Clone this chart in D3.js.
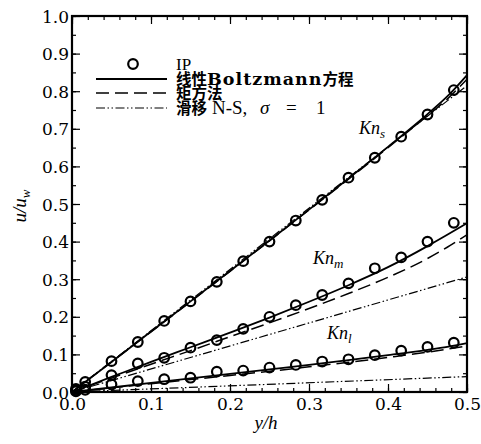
<!DOCTYPE html>
<html>
<head>
<meta charset="utf-8">
<script src="https://cdn.jsdelivr.net/npm/d3@7"></script>
<style>
  html, body { margin: 0; padding: 0; background: #fff; }
  svg { display: block; }
</style>
</head>
<body>
<svg id="chart" width="481" height="444"></svg>
<script>
// Velocity profiles u/u_w versus y/h for three Knudsen numbers
const xTicks = [0.0, 0.1, 0.2, 0.3, 0.4, 0.5];
const yTicks = [0.0, 0.1, 0.2, 0.3, 0.4, 0.5, 0.6, 0.7, 0.8, 0.9, 1.0];

// IP particle results
const ipX = [0.005, 0.0167, 0.05, 0.0833, 0.1167, 0.15, 0.1833, 0.2167, 0.25, 0.2833, 0.3167, 0.35, 0.3833, 0.4167, 0.45, 0.4833];
const ipS = [0.008, 0.027, 0.082, 0.133, 0.189, 0.241, 0.293, 0.348, 0.400, 0.456, 0.511, 0.570, 0.623, 0.679, 0.738, 0.803];
const ipM = [0.004, 0.014, 0.045, 0.076, 0.091, 0.118, 0.138, 0.168, 0.200, 0.231, 0.258, 0.289, 0.329, 0.358, 0.400, 0.450];
const ipL = [0.002, 0.006, 0.020, 0.029, 0.034, 0.038, 0.054, 0.057, 0.065, 0.072, 0.081, 0.087, 0.098, 0.110, 0.120, 0.131];

// Linearised Boltzmann equation and moment method
const curveX = [0, 0.05, 0.1, 0.15, 0.2, 0.25, 0.3, 0.35, 0.4, 0.45, 0.475, 0.5];
const boltzS  = [0, 0.080, 0.161, 0.241, 0.322, 0.403, 0.485, 0.568, 0.652, 0.739, 0.786, 0.843];
const momentS = [0, 0.080, 0.160, 0.240, 0.321, 0.402, 0.484, 0.566, 0.650, 0.735, 0.779, 0.832];
const boltzM  = [0, 0.040, 0.080, 0.119, 0.158, 0.198, 0.240, 0.284, 0.332, 0.388, 0.418, 0.449];
const momentM = [0, 0.037, 0.074, 0.110, 0.147, 0.184, 0.222, 0.262, 0.305, 0.355, 0.385, 0.418];
const boltzL  = [0, 0.012, 0.024, 0.036, 0.048, 0.060, 0.072, 0.085, 0.098, 0.112, 0.120, 0.130];
const momentL = [0, 0.011, 0.022, 0.033, 0.044, 0.055, 0.067, 0.079, 0.092, 0.106, 0.114, 0.122];

// Slip Navier-Stokes, sigma = 1 (linear)
const slipX = [0, 0.5];
const slipS = [0, 0.815];
const slipM = [0, 0.306];
const slipL = [0, 0.041];

const svg = d3.select("#chart");
const mLeft = 72, mRight = 467, mTop = 16, mBottom = 392;

const x = d3.scaleLinear().domain([0, 0.5]).range([mLeft, mRight]);
const y = d3.scaleLinear().domain([0, 1]).range([mBottom, mTop]);

const line = d3.line().x(d => x(d[0])).y(d => y(d[1])).curve(d3.curveMonotoneX);
const zip = (xs, ys) => xs.map((v, i) => [v, ys[i]]);

const dashed = "13,6";
const dashDot = "9,2.5,1.5,2.5,1.5,2.5";
const serif = "Liberation Serif, DejaVu Serif, serif";
const numFont = "DejaVu Serif, serif";
const cjk = "Noto Sans CJK SC, sans-serif";

const plot = svg.append("g");

function drawLine(xs, ys, dash, w) {
  plot.append("path")
    .datum(zip(xs, ys))
    .attr("d", line)
    .attr("fill", "none")
    .attr("stroke", "#000")
    .attr("stroke-width", w)
    .attr("stroke-dasharray", dash);
}

drawLine(slipX, slipS, dashDot, 1.2);
drawLine(slipX, slipM, dashDot, 1.2);
drawLine(slipX, slipL, dashDot, 1.2);
drawLine(curveX, momentS, dashed, 1.5);
drawLine(curveX, momentM, dashed, 1.5);
drawLine(curveX, momentL, dashed, 1.5);
drawLine(curveX, boltzS, null, 1.8);
drawLine(curveX, boltzM, null, 1.8);
drawLine(curveX, boltzL, null, 1.8);

[ipS, ipM, ipL].forEach(series => {
  plot.selectAll(null)
    .data(zip(ipX, series))
    .enter().append("circle")
    .attr("cx", d => x(d[0]))
    .attr("cy", d => y(d[1]))
    .attr("r", 4.8)
    .attr("fill", "none")
    .attr("stroke", "#000")
    .attr("stroke-width", 2.2);
});

// Axes with inward ticks on all four sides
const xMinor = d3.range(0, 0.5001, 0.02);
const yMinor = d3.range(0, 1.0001, 0.05);

function axisGroup(axis, tx, ty) {
  const g = svg.append("g").attr("transform", `translate(${tx},${ty})`).call(axis);
  g.select(".domain").remove();
  g.selectAll("line").attr("stroke", "#000").attr("stroke-width", 1.2);
  return g;
}

axisGroup(d3.axisBottom(x).tickValues(xMinor).tickSize(-4).tickFormat(""), 0, mBottom);
axisGroup(d3.axisTop(x).tickValues(xMinor).tickSize(-4).tickFormat(""), 0, mTop);
axisGroup(d3.axisLeft(y).tickValues(yMinor).tickSize(-4).tickFormat(""), mLeft, 0);
axisGroup(d3.axisRight(y).tickValues(yMinor).tickSize(-4).tickFormat(""), mRight, 0);

const xa = axisGroup(d3.axisBottom(x).tickValues(xTicks).tickSize(-8).tickFormat(d3.format(".1f")), 0, mBottom);
axisGroup(d3.axisTop(x).tickValues(xTicks).tickSize(-8).tickFormat(""), 0, mTop);
const ya = axisGroup(d3.axisLeft(y).tickValues(yTicks).tickSize(-8).tickFormat(d3.format(".1f")), mLeft, 0);
axisGroup(d3.axisRight(y).tickValues(yTicks).tickSize(-8).tickFormat(""), mRight, 0);

xa.selectAll("text")
  .style("font-family", numFont).style("font-size", "17px")
  .attr("fill", "#000").attr("y", 5).attr("dy", "0.76em");
ya.selectAll("text")
  .style("font-family", numFont).style("font-size", "17px")
  .attr("fill", "#000").attr("x", -3).attr("dy", "0.36em");

// Frame
svg.append("rect")
  .attr("x", mLeft).attr("y", mTop)
  .attr("width", mRight - mLeft).attr("height", mBottom - mTop)
  .attr("fill", "none").attr("stroke", "#000").attr("stroke-width", 2.2);

// Axis titles
svg.append("text")
  .attr("x", 266).attr("y", 429)
  .attr("text-anchor", "middle")
  .style("font-family", serif).style("font-size", "19px").style("font-style", "italic")
  .text("y/h");

const yt = svg.append("text")
  .attr("transform", "translate(26,206) rotate(-90)")
  .attr("text-anchor", "middle")
  .style("font-family", serif).style("font-size", "19px").style("font-style", "italic");
yt.append("tspan").text("u/u");
yt.append("tspan").style("font-size", "13px").attr("dy", 4).text("w");

// Knudsen number labels
function knLabel(px, py, sub) {
  const t = svg.append("text")
    .attr("x", px).attr("y", py)
    .style("font-family", serif).style("font-size", "18px").style("font-style", "italic");
  t.append("tspan").text("Kn");
  t.append("tspan").style("font-size", "13px").attr("dy", 4).text(sub);
}
knLabel(359, 134, "s");
knLabel(313, 264, "m");
knLabel(327, 339, "l");

// Legend
const legX0 = 96, legX1 = 167, legText = 176;
const legend = svg.append("g");
legend.append("circle").attr("cx", 133).attr("cy", 64).attr("r", 4.8)
  .attr("fill", "none").attr("stroke", "#000").attr("stroke-width", 2.2);
[[79, null, 1.8], [93, dashed, 1.5], [108, dashDot, 1.2]].forEach(([ly, dash, w]) => {
  legend.append("line")
    .attr("x1", legX0).attr("x2", legX1).attr("y1", ly).attr("y2", ly)
    .attr("stroke", "#000").attr("stroke-width", w).attr("stroke-dasharray", dash);
});

legend.append("text").attr("x", legText).attr("y", 70)
  .style("font-family", serif).style("font-size", "17px").text("IP");

const t1 = legend.append("text").attr("x", legText).attr("y", 85).style("font-weight", "bold");
t1.append("tspan").style("font-family", cjk).style("font-size", "15.5px").text("线性");
t1.append("tspan").style("font-family", numFont).style("font-size", "17.5px").style("letter-spacing", "1px").text("Boltzmann");
t1.append("tspan").style("font-family", cjk).style("font-size", "15.5px").text("方程");

legend.append("text").attr("x", legText).attr("y", 99)
  .style("font-family", cjk).style("font-size", "15.5px").style("font-weight", "bold").text("矩方法");

const t3 = legend.append("text").attr("x", legText).attr("y", 114).style("font-family", serif).style("font-size", "19px");
t3.append("tspan").style("font-family", cjk).style("font-size", "15.5px").style("font-weight", "bold").text("滑移");
t3.append("tspan").attr("x", 212).text("N-S,");
t3.append("tspan").attr("x", 260).style("font-style", "italic").text("σ");
t3.append("tspan").attr("x", 286).text("=");
t3.append("tspan").attr("x", 316).text("1");
</script>
</body>
</html>
